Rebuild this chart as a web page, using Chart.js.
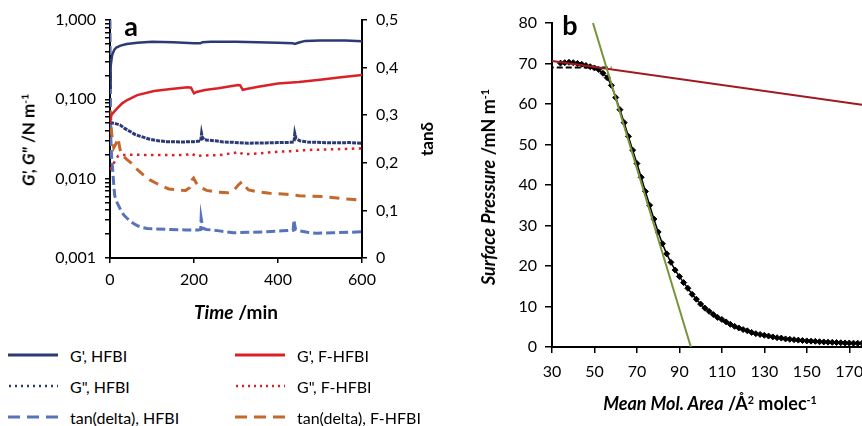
<!DOCTYPE html>
<html>
<head>
<meta charset="utf-8">
<script src="https://cdn.jsdelivr.net/npm/chart.js@4.4.1/dist/chart.umd.min.js"></script>
<style>
  body { margin: 0; background: #fff; font-family: Lato, sans-serif; color: #000; }
  #wrap { position: relative; width: 862px; height: 426px; overflow: hidden; }
  canvas { position: absolute; }
  #chartA { left: 0; top: 0; }
  #chartB { left: 440px; top: 0; }
  .lbl { position: absolute; font-weight: bold; white-space: nowrap; line-height: 1; transform: translate(-50%, -50%); }
  .rot { transform: translate(-50%, -50%) rotate(-90deg); }
  .lbl i { font-style: italic; }
  sup { font-size: 0.6em; vertical-align: 0.55em; line-height: 0; }
  .leg { position: absolute; font-size: 16px; display: flex; align-items: center; height: 20px; transform: translateY(-50%); white-space: nowrap; }
  .leg svg { margin-right: 12px; }
</style>
</head>
<body>
<div id="wrap">
  <canvas id="chartA" width="450" height="330"></canvas>
  <canvas id="chartB" width="440" height="426"></canvas>

  <div class="lbl" style="left:131px; top:25px; font-size:27px;">a</div>
  <div class="lbl rot" style="left:28px; top:140px; font-size:17px;"><i>G', G"</i> /N m<sup>-1</sup></div>
  <div class="lbl rot" style="left:426px; top:139px; font-size:17px;">tanδ</div>
  <div class="lbl" style="left:236px; top:311px; font-size:19px;"><i>Time</i> /min</div>

  <div class="lbl" style="left:570px; top:24px; font-size:27px;">b</div>
  <div class="lbl rot" style="left:488px; top:187px; font-size:18px;"><i>Surface Pressure</i> /mN m<sup>-1</sup></div>
  <div class="lbl" style="left:710px; top:403px; font-size:18px;"><i>Mean Mol. Area</i> /Å<sup>2</sup> molec<sup>-1</sup></div>

  <div class="leg" style="left:8px; top:355px;"><svg width="50" height="6"><line x1="0" y1="3" x2="50" y2="3" stroke="#2B3A75" stroke-width="3"/></svg>G', HFBI</div>
  <div class="leg" style="left:8px; top:386px;"><svg width="50" height="6"><line x1="1" y1="3" x2="50" y2="3" stroke="#2B3A75" stroke-width="2.5" stroke-dasharray="2 4"/></svg>G", HFBI</div>
  <div class="leg" style="left:8px; top:417px;"><svg width="50" height="6"><line x1="0" y1="3" x2="50" y2="3" stroke="#5673BC" stroke-width="3" stroke-dasharray="12 7"/></svg>tan(delta), HFBI</div>
  <div class="leg" style="left:235px; top:355px;"><svg width="50" height="6"><line x1="0" y1="3" x2="50" y2="3" stroke="#DA2128" stroke-width="3"/></svg>G', F-HFBI</div>
  <div class="leg" style="left:235px; top:386px;"><svg width="50" height="6"><line x1="1" y1="3" x2="50" y2="3" stroke="#DA2128" stroke-width="2.5" stroke-dasharray="2 4"/></svg>G", F-HFBI</div>
  <div class="leg" style="left:235px; top:417px;"><svg width="50" height="6"><line x1="0" y1="3" x2="50" y2="3" stroke="#C4682C" stroke-width="3" stroke-dasharray="12 7"/></svg>tan(delta), F-HFBI</div>
</div>

<script>
// ---- panel a: rheology vs time ----
const gpHfbiTime = [0, 1, 2, 5, 10, 15, 25, 40, 65, 100, 150, 200, 215, 220, 240, 300, 400, 435, 440, 450, 465, 500, 560, 600];
const gpHfbiVal = [0.14, 0.2, 0.26, 0.36, 0.42, 0.45, 0.475, 0.498, 0.518, 0.53, 0.525, 0.51, 0.508, 0.525, 0.533, 0.53, 0.518, 0.51, 0.498, 0.52, 0.545, 0.55, 0.55, 0.54];

const gppHfbiTime = [0, 10, 24, 35, 48, 60, 71, 85, 95, 115, 135, 170, 200, 216, 218, 220, 224, 230, 250, 270, 294, 330, 370, 400, 430, 438, 440, 443, 452, 470, 492, 530, 570, 600];
const gppHfbiVal = [0.051, 0.05, 0.0474, 0.043, 0.0393, 0.036, 0.0344, 0.0325, 0.0314, 0.03, 0.0293, 0.029, 0.0293, 0.03, 0.0372, 0.033, 0.031, 0.0307, 0.03, 0.029, 0.0287, 0.028, 0.0282, 0.0285, 0.0287, 0.029, 0.0372, 0.032, 0.03, 0.029, 0.0287, 0.0283, 0.0285, 0.028];

const tanHfbiTime = [0, 1, 2, 4, 6, 8, 11, 15, 21, 27, 33, 40, 49, 57, 65, 77, 89, 110, 144, 180, 210, 216, 217, 220, 222, 230, 260, 294, 330, 370, 410, 436, 438, 440, 442, 452, 470, 492, 530, 570, 600];
const tanHfbiVal = [0.5, 0.36, 0.25, 0.21, 0.19, 0.165, 0.132, 0.12, 0.109, 0.098, 0.09, 0.084, 0.077, 0.072, 0.068, 0.064, 0.062, 0.061, 0.06, 0.059, 0.059, 0.06, 0.084, 0.068, 0.062, 0.06, 0.057, 0.053, 0.054, 0.055, 0.057, 0.058, 0.08, 0.068, 0.06, 0.057, 0.054, 0.052, 0.053, 0.054, 0.055];

const gpFTime = [0, 3, 10, 17, 29, 41, 65, 105, 145, 185, 193, 196, 200, 206, 226, 258, 305, 310, 316, 325, 353, 400, 450, 500, 550, 600];
const gpFVal = [0.05, 0.063, 0.07, 0.077, 0.089, 0.098, 0.113, 0.127, 0.135, 0.142, 0.14, 0.13, 0.119, 0.124, 0.131, 0.138, 0.152, 0.15, 0.132, 0.135, 0.144, 0.158, 0.165, 0.177, 0.19, 0.203];

const gppFTime = [0, 5, 10, 15, 20, 30, 60, 100, 150, 180, 194, 205, 218, 260, 298, 305, 317, 353, 401, 432, 472, 536, 600];
const gppFVal = [0.013, 0.0145, 0.016, 0.018, 0.0195, 0.0199, 0.02, 0.0199, 0.0198, 0.0199, 0.0208, 0.0192, 0.0196, 0.0198, 0.0212, 0.0219, 0.0203, 0.0208, 0.0219, 0.0222, 0.023, 0.0235, 0.0241];

const tanFTime = [0, 4, 9, 14, 19, 24, 30, 40, 50, 60, 70, 80, 95, 110, 125, 140, 160, 180, 190, 196, 199, 205, 215, 230, 250, 280, 295, 305, 314, 320, 330, 350, 380, 420, 450, 480, 510, 550, 580, 600];
const tanFVal = [0.31, 0.26, 0.232, 0.24, 0.252, 0.228, 0.215, 0.207, 0.2, 0.19, 0.182, 0.174, 0.164, 0.157, 0.151, 0.145, 0.143, 0.142, 0.148, 0.165, 0.168, 0.158, 0.149, 0.142, 0.139, 0.137, 0.142, 0.153, 0.16, 0.152, 0.143, 0.139, 0.136, 0.134, 0.131, 0.13, 0.129, 0.125, 0.123, 0.121];

const logMajorTicks = [0.001, 0.01, 0.1, 1];
const logMajorLabels = ['0,001', '0,010', '0,100', '1,000'];
const tanTickLabels = ['0', '0,1', '0,2', '0,3', '0,4', '0,5'];
const timeTicks = [0, 200, 400, 600];

// ---- panel b: isotherm ----
const areaX = [34, 36, 38, 40, 42, 44, 46, 48, 50, 52, 54, 56, 58, 60, 62, 64, 66, 68, 70, 72, 74, 76, 78, 80, 82, 84, 86, 88, 90, 92, 94, 96, 98, 100, 102, 104, 106, 108, 110, 112, 114, 116, 118, 120, 122, 124, 126, 128, 130, 132, 134, 136, 138, 140, 142, 144, 146, 148, 150, 152, 154, 156, 158, 160, 162, 164, 166, 168, 170, 172, 174, 176];
const pressureY = [70.1, 70.2, 70.3, 70.2, 70.0, 69.8, 69.5, 69.2, 68.9, 68.5, 67.6, 66.5, 64.6, 61.6, 58.6, 55.4, 52.0, 48.6, 45.3, 41.9, 38.4, 35.0, 31.6, 28.4, 25.5, 23.0, 20.9, 19.0, 17.4, 15.9, 14.5, 13.0, 11.8, 10.6, 9.6, 8.8, 8.0, 7.3, 6.8, 6.2, 5.6, 5.1, 4.7, 4.3, 4.0, 3.6, 3.3, 3.1, 2.9, 2.7, 2.5, 2.3, 2.2, 2.0, 1.9, 1.8, 1.7, 1.6, 1.5, 1.45, 1.4, 1.3, 1.25, 1.2, 1.15, 1.1, 1.05, 1.0, 0.98, 0.95, 0.92, 0.9];
const steepFitX = [49.3, 95.4];
const steepFitY = [80, 0];
const plateauFitX = [30, 176];
const plateauFitY = [70.6, 59.8];
const collapseX = [28, 58];
const collapseY = [69, 69];
const areaTicks = [30, 50, 70, 90, 110, 130, 150, 170];

Chart.defaults.font.family = 'Lato, sans-serif';
Chart.defaults.color = '#000';

const pts = (xs, ys) => xs.map((x, i) => ({ x, y: ys[i] }));

// log minor ticks 1..9 per decade
const logTickValues = [];
logMajorTicks.slice(0, -1).forEach(d => {
  for (let k = 1; k <= 9; k++) logTickValues.push(k * d);
});
logTickValues.push(1);

const axisGrid = { drawOnChartArea: false, drawTicks: true, tickLength: 5, color: '#000', lineWidth: 1.5 };
const axisBorder = { color: '#000', width: 2 };

new Chart(document.getElementById('chartA'), {
  type: 'line',
  data: {
    datasets: [
      { data: pts(gpHfbiTime, gpHfbiVal), yAxisID: 'y', borderColor: '#2B3A75', borderWidth: 2.5 },
      { data: pts(gpFTime, gpFVal), yAxisID: 'y', borderColor: '#DA2128', borderWidth: 2.5 },
      { data: pts(gppHfbiTime, gppHfbiVal), yAxisID: 'y', borderColor: '#2B3A75', borderWidth: 3, borderDash: [4, 1] },
      { data: pts(gppFTime, gppFVal), yAxisID: 'y', borderColor: '#DA2128', borderWidth: 2.5, borderDash: [2.5, 4.5] },
      { data: pts(tanFTime, tanFVal), yAxisID: 'y1', borderColor: '#C4682C', borderWidth: 3, borderDash: [10, 7] },
      { data: pts(tanHfbiTime, tanHfbiVal), yAxisID: 'y1', borderColor: '#5673BC', borderWidth: 3, borderDash: [9, 4] }
    ]
  },
  options: {
    responsive: false,
    animation: false,
    layout: { padding: { top: 20, left: 0, right: 0, bottom: 0 } },
    plugins: { legend: { display: false }, tooltip: { enabled: false } },
    elements: { point: { radius: 0 }, line: { tension: 0 } },
    scales: {
      x: {
        type: 'linear', min: 0, max: 600,
        afterBuildTicks: s => { s.ticks = timeTicks.map(v => ({ value: v })); },
        ticks: { padding: 7, font: { size: 16 } },
        grid: axisGrid, border: axisBorder,
        afterFit: s => { s.height = 72; }
      },
      y: {
        type: 'logarithmic', position: 'left', min: 0.001, max: 1,
        afterBuildTicks: s => { s.ticks = logTickValues.map(v => ({ value: v })); },
        ticks: {
          autoSkip: false, padding: 9, font: { size: 16 },
          callback: v => {
            const i = logMajorTicks.findIndex(m => Math.abs(m - v) < m * 1e-6);
            return i >= 0 ? logMajorLabels[i] : '';
          }
        },
        grid: axisGrid, border: axisBorder,
        afterFit: s => { s.width = 110; }
      },
      y1: {
        type: 'linear', position: 'right', min: 0, max: 0.5,
        ticks: { stepSize: 0.1, padding: 9, font: { size: 16 }, callback: v => tanTickLabels[Math.round(v * 10)] },
        grid: axisGrid, border: axisBorder,
        afterFit: s => { s.width = 88; }
      }
    }
  }
});

new Chart(document.getElementById('chartB'), {
  type: 'line',
  data: {
    datasets: [
      { data: pts(steepFitX, steepFitY), borderColor: '#77933C', borderWidth: 2, pointRadius: 0 },
      { data: pts(plateauFitX, plateauFitY), borderColor: '#A0191E', borderWidth: 2, pointRadius: 0 },
      { data: pts(collapseX, collapseY), borderColor: '#000', borderWidth: 2, borderDash: [6, 3], pointRadius: 0 },
      {
        data: pts(areaX, pressureY), borderColor: '#000', borderWidth: 1.5,
        pointStyle: 'rectRot', pointRadius: 3, pointBackgroundColor: '#000', pointBorderColor: '#000', pointBorderWidth: 1
      }
    ]
  },
  options: {
    responsive: false,
    animation: false,
    layout: { padding: { top: 23, left: 0, right: 18, bottom: 0 } },
    plugins: { legend: { display: false }, tooltip: { enabled: false } },
    elements: { line: { tension: 0 } },
    scales: {
      x: {
        type: 'linear', min: 30, max: 176,
        afterBuildTicks: s => { s.ticks = areaTicks.map(v => ({ value: v })); },
        ticks: { autoSkip: false, padding: 9, font: { size: 16 } },
        grid: { ...axisGrid, tickLength: 6 }, border: axisBorder,
        afterFit: s => { s.height = 79; }
      },
      y: {
        type: 'linear', min: 0, max: 80,
        ticks: { stepSize: 10, padding: 8, font: { size: 16 } },
        grid: { ...axisGrid, tickLength: 7 }, border: axisBorder,
        afterFit: s => { s.width = 112; }
      }
    }
  }
});
</script>
</body>
</html>
